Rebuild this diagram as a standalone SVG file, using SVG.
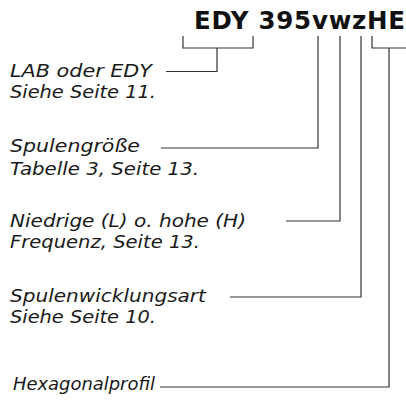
<svg xmlns="http://www.w3.org/2000/svg" width="406" height="400" viewBox="0 0 406 400">
<style>
.t{font-family:"DejaVu Sans","Noto Sans",sans-serif;font-style:italic;font-size:18.5px;fill:#1a1a1a}
.h{font-family:"DejaVu Sans","Noto Sans",sans-serif;font-weight:bold;font-size:24.5px;fill:#111}
.c{fill:none;stroke:#333;stroke-width:1.2}
</style>
<rect width="406" height="400" fill="#fff"/>
<g id="code"><text class="h" x="194" y="29" textLength="211">EDY 395vwzHE</text></g>
<g id="n1"><text class="t" x="10" y="77" textLength="142" lengthAdjust="spacingAndGlyphs">LAB oder EDY</text><text class="t" x="10" y="98" textLength="146" lengthAdjust="spacingAndGlyphs">Siehe Seite 11.</text></g>
<g id="n2"><text class="t" x="10" y="152" textLength="130" lengthAdjust="spacingAndGlyphs">Spulengröße</text><text class="t" x="10" y="175" textLength="189" lengthAdjust="spacingAndGlyphs">Tabelle 3, Seite 13.</text></g>
<g id="n3"><text class="t" x="10" y="227" textLength="236" lengthAdjust="spacingAndGlyphs">Niedrige (L) o. hohe (H)</text><text class="t" x="10" y="248" textLength="190" lengthAdjust="spacingAndGlyphs">Frequenz, Seite 13.</text></g>
<g id="n4"><text class="t" x="10" y="302" textLength="196" lengthAdjust="spacingAndGlyphs">Spulenwicklungsart</text><text class="t" x="10" y="323" textLength="146" lengthAdjust="spacingAndGlyphs">Siehe Seite 10.</text></g>
<g id="n5"><text class="t" x="13" y="390" textLength="142" lengthAdjust="spacingAndGlyphs">Hexagonalprofil</text></g>
<g id="connectors">
<path class="c" d="M183 36V48H253V36M217 48V71.5H166"/>
<path class="c" d="M318 36V148H161"/>
<path class="c" d="M340 36V221H286"/>
<path class="c" d="M361 36V297H230"/>
<path class="c" d="M372 36V48H406M389 48V387H160"/>
</g>
</svg>
